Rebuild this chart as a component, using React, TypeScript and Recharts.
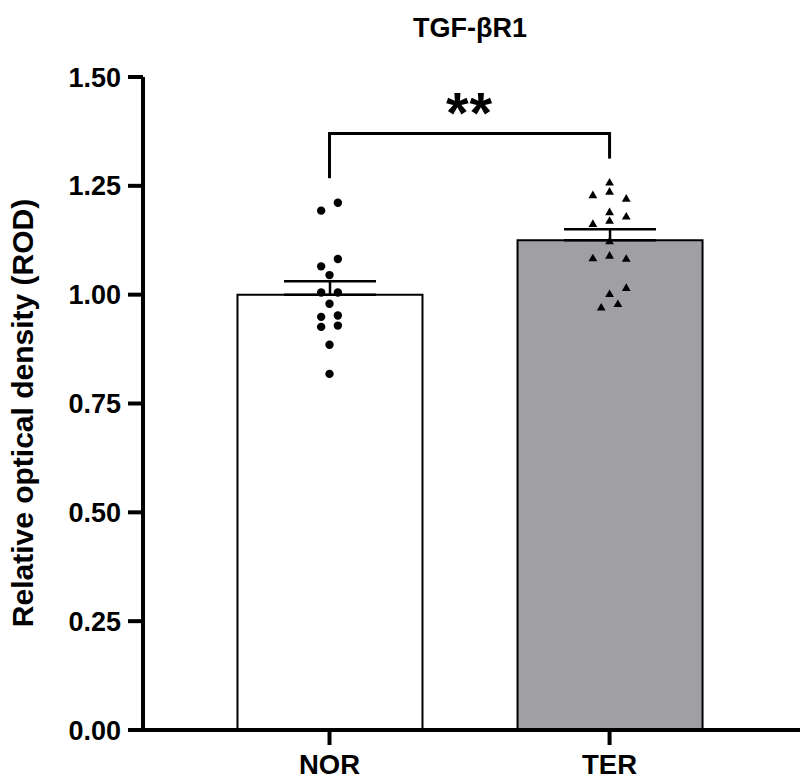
import React from 'react';
import {
  ComposedChart,
  Bar,
  Cell,
  ErrorBar,
  Scatter,
  XAxis,
  YAxis,
  ReferenceLine,
} from 'recharts';

// ---- data ----
const groups = ['NOR', 'TER'];
const groupX = [1, 2];
const means = [1.0, 1.125];
const sems = [0.031, 0.025];

const norValues = [1.211, 1.193, 1.082, 1.065, 1.045, 1.005, 1.005, 0.979, 0.949, 0.952, 0.926, 0.929, 0.885, 0.818];
const norLanes = [1, -1, 1, -1, 0, -1, 1, 0, -1, 1, -1, 1, 0, 0];

const terValues = [1.258, 1.237, 1.229, 1.221, 1.19, 1.18, 1.17, 1.163, 1.123, 1.084, 1.09, 1.083, 1.016, 1.002, 0.979, 0.971];
const terLanes = [0, 0, -2, 2, 0, 2, 0, -2, 0, -2, 0, 2, 2, 0, 1, -1];

const yTicks = [0, 0.25, 0.5, 0.75, 1.0, 1.25, 1.5];
const bracketLeft = 1.271;
const bracketTop = 1.37;
const bracketRight = 1.316;
const sigLabel = '**';
const chartTitle = 'TGF-βR1';
const yTitle = 'Relative optical density (ROD)';

// ---- derived tables ----
const X_DOMAIN = [0.334, 2.68];
const JITTER = 0.0298;
const barData = groups.map((g, i) => ({
  x: groupX[i],
  name: g,
  mean: means[i],
  err: [0, sems[i]],
}));
const norPoints = norValues.map((v, i) => ({ x: groupX[0] + norLanes[i] * JITTER, y: v }));
const terPoints = terValues.map((v, i) => ({ x: groupX[1] + terLanes[i] * JITTER, y: v }));

const FONT = "'Liberation Sans', Arial, Helvetica, sans-serif";
const barFills = ['#ffffff', '#a09fa4'];

const DotShape = (p: any) => <circle cx={p.cx} cy={p.cy} r={4.2} fill="#000" />;
const TriShape = (p: any) => (
  <polygon
    points={`${p.cx},${p.cy - 4.4} ${p.cx - 4.4},${p.cy + 3.2} ${p.cx + 4.4},${p.cy + 3.2}`}
    fill="#000"
  />
);

const renderYTitle = () => (
  <text
    x={33}
    y={413}
    transform="rotate(-90, 33, 413)"
    textAnchor="middle"
    fontSize={30}
    fontWeight="bold"
    fontFamily={FONT}
    fill="#000"
  >
    {yTitle}
  </text>
);

const axisStroke = { stroke: '#000', strokeWidth: 4 };
const tickFont = { fill: '#000', fontSize: 27, fontWeight: 'bold', fontFamily: FONT };

export default function App() {
  return (
    <div style={{ position: 'absolute', left: 0, top: 0, width: 800, height: 779, background: '#fff' }}>
      <svg width={800} height={60} style={{ position: 'absolute', left: 0, top: 0 }}>
        <text x={470} y={37} textAnchor="middle" fontSize={27} fontWeight="bold" fontFamily={FONT} fill="#000">
          {chartTitle}
        </text>
      </svg>
      <ComposedChart
        width={800}
        height={779}
        data={barData}
        margin={{ top: 77, right: 0, bottom: 0, left: 0 }}
        style={{ position: 'absolute', left: 0, top: 0 }}
      >
        <XAxis
          type="number"
          dataKey="x"
          domain={X_DOMAIN}
          allowDataOverflow
          ticks={groupX}
          interval={0}
          tickFormatter={(v: number) => groups[groupX.indexOf(v)]}
          height={49}
          tickSize={15}
          tickMargin={9}
          axisLine={axisStroke}
          tickLine={axisStroke}
          tick={{ ...tickFont, fontSize: 27.5 }}
        />
        <XAxis xAxisId="pts" type="number" dataKey="x" domain={X_DOMAIN} allowDataOverflow hide />
        <YAxis
          type="number"
          domain={[0, 1.5]}
          ticks={yTicks}
          interval={0}
          tickFormatter={(v: number) => v.toFixed(2)}
          width={143}
          tickSize={15}
          tickMargin={7}
          axisLine={axisStroke}
          tickLine={axisStroke}
          tick={tickFont}
          label={{ content: renderYTitle }}
        />
        <Bar dataKey="mean" barSize={185} stroke="#000" strokeWidth={2} isAnimationActive={false}>
          {barData.map((d, i) => (
            <Cell key={d.name} fill={barFills[i]} />
          ))}
          <ErrorBar dataKey="err" direction="y" width={46} stroke="#000" strokeWidth={2.5} />
        </Bar>
        <Scatter xAxisId="pts" data={norPoints} dataKey="y" shape={DotShape} isAnimationActive={false} />
        <Scatter xAxisId="pts" data={terPoints} dataKey="y" shape={TriShape} isAnimationActive={false} />
        <ReferenceLine
          segment={[{ x: groupX[0], y: bracketLeft }, { x: groupX[0], y: bracketTop }]}
          stroke="#000"
          strokeWidth={3}
          strokeLinecap="square"
        />
        <ReferenceLine
          segment={[{ x: groupX[1], y: bracketRight }, { x: groupX[1], y: bracketTop }]}
          stroke="#000"
          strokeWidth={3}
          strokeLinecap="square"
        />
        <ReferenceLine
          segment={[{ x: groupX[0], y: bracketTop }, { x: groupX[1], y: bracketTop }]}
          stroke="#000"
          strokeWidth={3}
          label={{
            value: sigLabel,
            position: 'top',
            offset: 1,
            fontSize: 58,
            fontWeight: 'bold',
            fontFamily: FONT,
            fill: '#000',
            letterSpacing: 1,
          }}
        />
      </ComposedChart>
    </div>
  );
}
